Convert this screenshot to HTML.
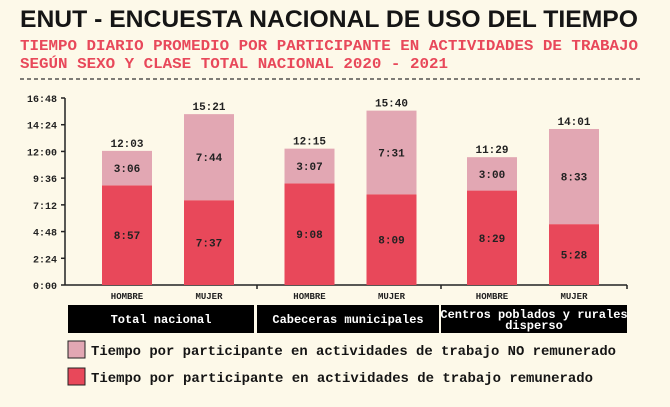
<!DOCTYPE html>
<html><head><meta charset="utf-8"><style>
body{margin:0;background:#fdf9e9;width:670px;height:402px;overflow:hidden;font-family:"Liberation Mono",monospace}
</style></head><body>
<svg width="670" height="402">
<rect width="670" height="402" fill="#fdf9e9"/>
<text x="20" y="27" font-family="Liberation Sans, sans-serif" font-weight="bold" font-size="24" fill="#151515" textLength="618" lengthAdjust="spacingAndGlyphs">ENUT - ENCUESTA NACIONAL DE USO DEL TIEMPO</text>
<text x="20" y="50" font-family="Liberation Mono, monospace" font-weight="bold" font-size="15" fill="#e8485a" textLength="618" lengthAdjust="spacingAndGlyphs">TIEMPO DIARIO PROMEDIO POR PARTICIPANTE EN ACTIVIDADES DE TRABAJO</text>
<text x="20" y="68" font-family="Liberation Mono, monospace" font-weight="bold" font-size="15" fill="#e8485a" textLength="428" lengthAdjust="spacingAndGlyphs">SEGÚN SEXO Y CLASE TOTAL NACIONAL 2020 - 2021</text>
<line x1="20" y1="79" x2="640" y2="79" stroke="#333" stroke-width="1.2" stroke-dasharray="4,3"/>
<g id="plot"></g>
<g>
<rect x="68" y="305" width="186" height="28" fill="#000"/>
<text x="161" y="323" text-anchor="middle" font-size="12" font-weight="bold" fill="#fff">Total nacional</text>
<rect x="257" y="305" width="182" height="28" fill="#000"/>
<text x="348" y="323" text-anchor="middle" font-size="12" font-weight="bold" fill="#fff">Cabeceras municipales</text>
<rect x="441" y="305" width="186" height="28" fill="#000"/>
<text x="534" y="318" text-anchor="middle" font-size="12" font-weight="bold" fill="#fff">Centros poblados y rurales</text>
<text x="534" y="329" text-anchor="middle" font-size="12" font-weight="bold" fill="#fff">disperso</text>
</g>
<g>
<rect x="68" y="341" width="17" height="17" fill="#e2a7b3" stroke="#222" stroke-width="1"/>
<text x="91" y="355" font-size="14" font-weight="bold" fill="#151515" textLength="525" lengthAdjust="spacingAndGlyphs">Tiempo por participante en actividades de trabajo NO remunerado</text>
<rect x="68" y="368" width="17" height="17" fill="#e8485a" stroke="#222" stroke-width="1"/>
<text x="91" y="382" font-size="14" font-weight="bold" fill="#151515" textLength="502" lengthAdjust="spacingAndGlyphs">Tiempo por participante en actividades de trabajo remunerado</text>
</g>
</svg>
<script>
const groups=["Total nacional","Cabeceras municipales","Centros poblados y rurales disperso"];
const sexes=["HOMBRE","MUJER"];
const paid=[537,457,548,489,509,328];
const unpaid=[186,464,187,451,180,513];
const yTicks=[0,144,288,432,576,720,864,1008];
const NS="http://www.w3.org/2000/svg";
const g=document.getElementById('plot');
const y0=285,y1=98,yMax=1008;
const y=v=>y0-(v/yMax)*(y0-y1);
const xc=i=>127+Math.floor(i/2)*182.5+(i%2)*82;
const fmt=m=>Math.floor(m/60)+":"+String(m%60).padStart(2,"0");
function mk(t,a,txt){const e=document.createElementNS(NS,t);for(const k in a)e.setAttribute(k,a[k]);if(txt!=null)e.textContent=txt;g.appendChild(e);return e;}
let e=mk('line',{x1:65,y1:y1,x2:65,y2:y0,stroke:'#222','stroke-width':1.5});


e=mk('line',{x1:65,y1:y0,x2:627,y2:y0,stroke:'#222','stroke-width':1.5});


[257,441,627].forEach(x=>{const t=mk('line',{x1:x,y1:y0,x2:x,y2:y0+4,stroke:'#222','stroke-width':1.5});

});
yTicks.forEach(v=>{const t=mk('line',{x1:61,y1:y(v),x2:65,y2:y(v),stroke:'#222','stroke-width':1.5});


const l=mk('text',{x:57,y:y(v)+4,'text-anchor':'end','font-size':10,'font-weight':'bold',fill:'#222'},fmt(v));

});
paid.forEach((p,i)=>{const u=unpaid[i],x=xc(i)-25,w=50;
const b1=mk('rect',{x:x,y:y(p),width:w,height:y0-y(p),fill:'#e8485a'});


const b2=mk('rect',{x:x,y:y(p+u),width:w,height:y(p)-y(p+u),fill:'#e2a7b3'});


const l1=mk('text',{x:xc(i),y:(y(p)+y0)/2+4,'text-anchor':'middle','font-size':11,'font-weight':'bold',fill:'#222'},fmt(p));


const l2=mk('text',{x:xc(i),y:(y(p)+y(p+u))/2+4,'text-anchor':'middle','font-size':11,'font-weight':'bold',fill:'#222'},fmt(u));


const l3=mk('text',{x:xc(i),y:y(p+u)-4,'text-anchor':'middle','font-size':11,'font-weight':'bold',fill:'#222'},fmt(p+u));


const l4=mk('text',{x:xc(i),y:299,'text-anchor':'middle','font-size':9,'font-weight':'bold',fill:'#222'},sexes[i%2]);

});
</script>
</body></html>
